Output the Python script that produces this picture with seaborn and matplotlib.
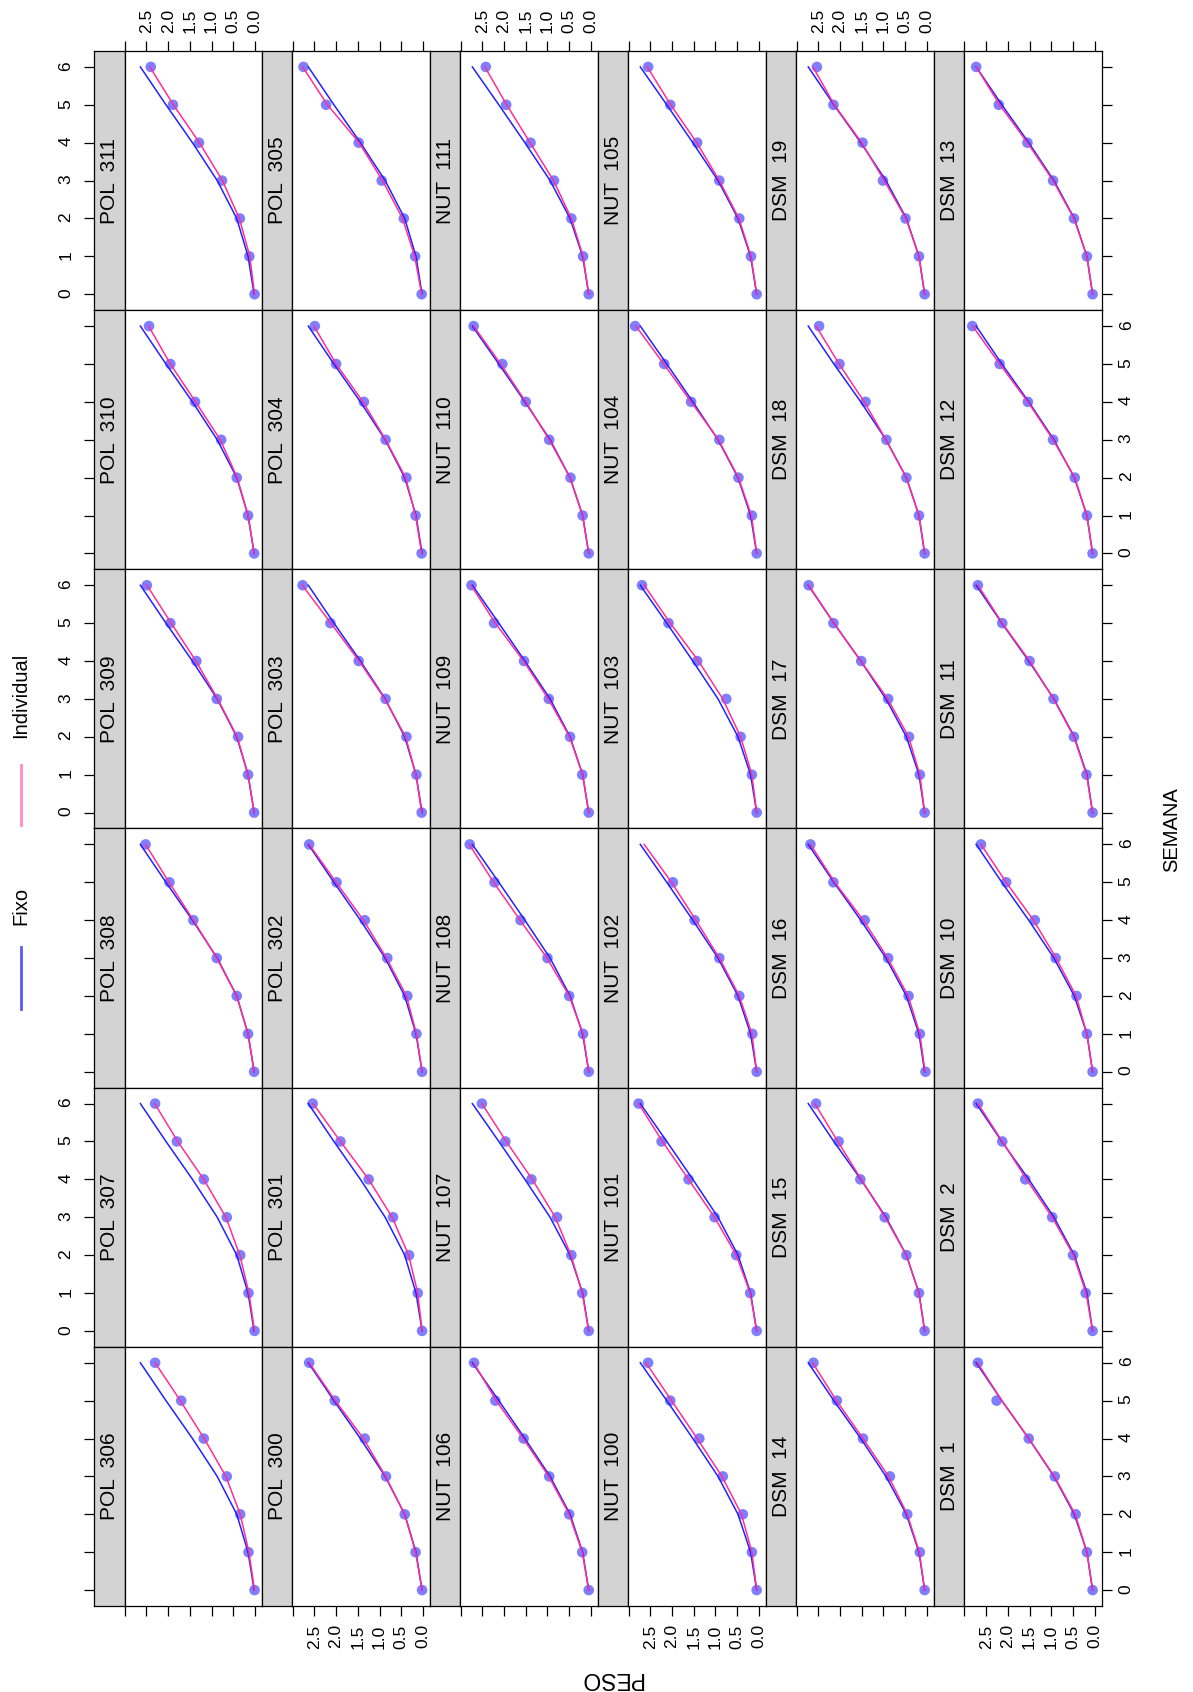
import numpy as np
import pandas as pd
import matplotlib
matplotlib.use("Agg")
import matplotlib.pyplot as plt
from matplotlib.lines import Line2D
from matplotlib import font_manager
import seaborn as sns

# ---------------------------------------------------------------- data
weeks = [0, 1, 2, 3, 4, 5, 6]
peso_ticks = [0.0, 0.5, 1.0, 1.5, 2.0, 2.5, 3.0]
peso_tick_labels = ["0.0", "0.5", "1.0", "1.5", "2.0", "2.5", ""]

# panel order: one list per column, top row first
col_labels = [
    ["POL  311", "POL  310", "POL  309", "POL  308", "POL  307", "POL  306"],
    ["POL  305", "POL  304", "POL  303", "POL  302", "POL  301", "POL  300"],
    ["NUT  111", "NUT  110", "NUT  109", "NUT  108", "NUT  107", "NUT  106"],
    ["NUT  105", "NUT  104", "NUT  103", "NUT  102", "NUT  101", "NUT  100"],
    ["DSM  19", "DSM  18", "DSM  17", "DSM  16", "DSM  15", "DSM  14"],
    ["DSM  13", "DSM  12", "DSM  11", "DSM  10", "DSM  2", "DSM  1"],
]

# observed weight by week (NaN = not weighed)
peso_obs = {
    "POL  311": [0.01, 0.13, 0.35, 0.76, 1.29, 1.89, 2.40],
    "POL  310": [0.02, 0.16, 0.42, 0.78, 1.38, 1.95, 2.44],
    "POL  309": [0.02, 0.16, 0.39, 0.88, 1.35, 1.95, 2.49],
    "POL  308": [0.02, 0.16, 0.42, 0.88, 1.42, 1.97, 2.52],
    "POL  307": [0.01, 0.15, 0.34, 0.65, 1.18, 1.80, 2.30],
    "POL  306": [0.01, 0.15, 0.34, 0.65, 1.18, 1.70, 2.30],
    "POL  305": [0.03, 0.18, 0.44, 0.95, 1.48, 2.23, 2.75],
    "POL  304": [0.03, 0.17, 0.38, 0.86, 1.36, 2.00, 2.49],
    "POL  303": [0.03, 0.15, 0.38, 0.86, 1.48, 2.13, 2.77],
    "POL  302": [0.02, 0.15, 0.36, 0.82, 1.34, 1.99, 2.62],
    "POL  301": [0.02, 0.12, 0.32, 0.69, 1.25, 1.90, 2.54],
    "POL  300": [0.02, 0.17, 0.42, 0.85, 1.34, 2.03, 2.62],
    "NUT  111": [0.05, 0.18, 0.45, 0.85, 1.39, 1.95, 2.42],
    "NUT  110": [0.05, 0.19, 0.47, 0.96, 1.50, 2.04, 2.70],
    "NUT  109": [0.05, 0.20, 0.48, 0.97, 1.54, 2.23, 2.75],
    "NUT  108": [0.05, 0.18, 0.50, 1.00, 1.62, 2.22, 2.79],
    "NUT  107": [0.05, 0.20, 0.45, 0.78, 1.37, 1.97, 2.51],
    "NUT  106": [0.05, 0.20, 0.50, 0.96, 1.55, 2.20, 2.69],
    "NUT  105": [0.05, 0.18, 0.45, 0.91, 1.42, 2.04, 2.55],
    "NUT  104": [0.05, 0.16, 0.47, 0.91, 1.56, 2.18, 2.85],
    "NUT  103": [0.05, 0.16, 0.42, 0.75, 1.42, 2.08, 2.69],
    "NUT  102": [0.05, 0.15, 0.45, 0.91, 1.48, 1.98, np.nan],
    "NUT  101": [0.05, 0.20, 0.52, 1.02, 1.62, 2.24, 2.77],
    "NUT  100": [0.05, 0.16, 0.37, 0.83, 1.37, 2.04, 2.55],
    "DSM  19": [0.05, 0.18, 0.49, 1.01, 1.48, 2.15, 2.53],
    "DSM  18": [0.05, 0.18, 0.47, 0.93, 1.41, 2.01, 2.48],
    "DSM  17": [0.05, 0.16, 0.41, 0.89, 1.51, 2.15, 2.72],
    "DSM  16": [0.03, 0.16, 0.42, 0.89, 1.43, 2.15, 2.68],
    "DSM  15": [0.05, 0.18, 0.47, 0.97, 1.53, 2.03, 2.55],
    "DSM  14": [0.05, 0.16, 0.45, 0.85, 1.47, 2.07, 2.61],
    "DSM  13": [0.05, 0.18, 0.48, 0.96, 1.55, 2.21, 2.73],
    "DSM  12": [0.05, 0.18, 0.46, 0.96, 1.54, 2.19, 2.82],
    "DSM  11": [0.05, 0.19, 0.48, 0.95, 1.50, 2.13, 2.69],
    "DSM  10": [0.05, 0.18, 0.42, 0.90, 1.38, 2.04, 2.62],
    "DSM  2": [0.05, 0.21, 0.50, 0.98, 1.60, 2.13, 2.69],
    "DSM  1": [0.05, 0.18, 0.44, 0.92, 1.52, 2.26, 2.69],
}

# individual-curve fitted weight by week
peso_ind = {
    "POL  311": [0.01, 0.12, 0.36, 0.75, 1.28, 1.88, 2.42],
    "POL  310": [0.02, 0.16, 0.41, 0.80, 1.37, 1.95, 2.45],
    "POL  309": [0.02, 0.16, 0.41, 0.86, 1.36, 1.93, 2.49],
    "POL  308": [0.02, 0.16, 0.42, 0.88, 1.42, 1.98, 2.52],
    "POL  307": [0.01, 0.14, 0.35, 0.67, 1.18, 1.78, 2.31],
    "POL  306": [0.01, 0.14, 0.34, 0.67, 1.17, 1.72, 2.30],
    "POL  305": [0.03, 0.19, 0.47, 0.93, 1.47, 2.20, 2.77],
    "POL  304": [0.03, 0.17, 0.40, 0.86, 1.38, 2.00, 2.51],
    "POL  303": [0.03, 0.16, 0.40, 0.88, 1.47, 2.12, 2.78],
    "POL  302": [0.02, 0.15, 0.38, 0.84, 1.37, 2.00, 2.62],
    "POL  301": [0.02, 0.12, 0.33, 0.71, 1.25, 1.90, 2.53],
    "POL  300": [0.02, 0.17, 0.42, 0.86, 1.37, 2.02, 2.62],
    "NUT  111": [0.05, 0.18, 0.45, 0.86, 1.40, 1.94, 2.44],
    "NUT  110": [0.05, 0.19, 0.48, 0.96, 1.50, 2.08, 2.70],
    "NUT  109": [0.05, 0.19, 0.49, 0.98, 1.55, 2.20, 2.76],
    "NUT  108": [0.05, 0.18, 0.50, 1.01, 1.63, 2.24, 2.80],
    "NUT  107": [0.05, 0.20, 0.46, 0.82, 1.35, 1.95, 2.51],
    "NUT  106": [0.05, 0.20, 0.50, 0.97, 1.56, 2.18, 2.70],
    "NUT  105": [0.05, 0.18, 0.46, 0.91, 1.43, 2.03, 2.57],
    "NUT  104": [0.05, 0.17, 0.47, 0.93, 1.56, 2.19, 2.83],
    "NUT  103": [0.05, 0.16, 0.42, 0.83, 1.39, 2.04, 2.64],
    "NUT  102": [0.05, 0.16, 0.45, 0.91, 1.45, 2.01, 2.64],
    "NUT  101": [0.05, 0.20, 0.52, 1.02, 1.62, 2.22, 2.77],
    "NUT  100": [0.05, 0.16, 0.40, 0.85, 1.42, 2.01, 2.60],
    "DSM  19": [0.05, 0.18, 0.48, 0.98, 1.50, 2.13, 2.62],
    "DSM  18": [0.05, 0.18, 0.47, 0.94, 1.44, 2.02, 2.55],
    "DSM  17": [0.05, 0.16, 0.42, 0.90, 1.52, 2.14, 2.72],
    "DSM  16": [0.04, 0.16, 0.43, 0.90, 1.46, 2.12, 2.68],
    "DSM  15": [0.05, 0.18, 0.47, 0.96, 1.51, 2.05, 2.58],
    "DSM  14": [0.05, 0.17, 0.45, 0.88, 1.47, 2.08, 2.63],
    "DSM  13": [0.05, 0.18, 0.48, 0.96, 1.55, 2.19, 2.73],
    "DSM  12": [0.05, 0.18, 0.46, 0.96, 1.54, 2.19, 2.81],
    "DSM  11": [0.05, 0.19, 0.48, 0.95, 1.50, 2.13, 2.69],
    "DSM  10": [0.05, 0.18, 0.43, 0.89, 1.41, 2.04, 2.62],
    "DSM  2": [0.05, 0.20, 0.49, 0.98, 1.57, 2.13, 2.69],
    "DSM  1": [0.05, 0.18, 0.45, 0.93, 1.52, 2.14, 2.70],
}

# fixed-effect (group) curve by week
peso_fixo = {
    "POL": [0.02, 0.16, 0.42, 0.87, 1.44, 2.05, 2.64],
    "NUT": [0.05, 0.19, 0.48, 0.94, 1.52, 2.12, 2.73],
    "DSM": [0.05, 0.18, 0.47, 0.94, 1.52, 2.14, 2.73],
}

# ---------------------------------------------------------------- style
names = {f.name for f in font_manager.fontManager.ttflist}
if "Liberation Sans Narrow" in names:
    vfam = "Liberation Sans Narrow"
    strip_fs, tick_fs, lab_fs = 18, 15, 17.5
else:
    vfam = "Liberation Sans"
    strip_fs, tick_fs, lab_fs = 15, 12.5, 14.5
plt.rcParams["font.family"] = [vfam, "DejaVu Sans"]

C_FIX = "#2222ff"
C_IND = "#ff2f96"
C_PT = "#1414ff"

W, H = 1193, 1692
fig = plt.figure(figsize=(W / 100, H / 100), dpi=100)

GRID_L, GRID_R, GRID_T, GRID_B = 94.0, 1101.7, 51.0, 1606.0
NCOL, NROW = 6, 6
col_w = (GRID_R - GRID_L) / NCOL
row_h = (GRID_B - GRID_T) / NROW
STRIP_W = 30.5
XLIM = (3.005, -0.16)
YLIM = (-0.42, 6.42)


def rect(x0, y0, x1, y1):
    return [x0 / W, 1 - y1 / H, (x1 - x0) / W, (y1 - y0) / H]


for c, column in enumerate(col_labels):
    for r, label in enumerate(column):
        x0 = GRID_L + c * col_w
        y0 = GRID_T + r * row_h
        y1 = y0 + row_h

        # strip (panel header) on the left of each panel
        sax = fig.add_axes(rect(x0, y0, x0 + STRIP_W, y1))
        sax.set_facecolor("#d3d3d3")
        sax.set_xlim(0, 1)
        sax.set_ylim(*YLIM)
        sax.set_xticks([])
        sax.set_yticks(weeks, labels=[str(w) for w in weeks])
        sax.tick_params(axis="y", direction="out", length=7.2, width=0.9,
                        labelsize=tick_fs, labelrotation=90, pad=7.5,
                        left=(c == 0), labelleft=(c == 0 and r % 2 == 0),
                        right=False, labelright=False)
        for sp in sax.spines.values():
            sp.set_linewidth(0.9)
            sp.set_color("black")
        sax.text(0.5, 0.5, label, rotation=90, ha="center", va="center",
                 fontsize=strip_fs, transform=sax.transAxes)

        # data panel: PESO runs right-to-left, SEMANA bottom-to-top
        ax = fig.add_axes(rect(x0 + STRIP_W, y0, x0 + col_w, y1))
        df_obs = pd.DataFrame({"SEMANA": weeks, "PESO": peso_obs[label]})
        df_ind = pd.DataFrame({"SEMANA": weeks, "PESO": peso_ind[label]})
        df_fix = pd.DataFrame({"SEMANA": weeks,
                               "PESO": peso_fixo[label.split()[0]]})

        sns.scatterplot(data=df_obs, x="PESO", y="SEMANA", ax=ax,
                        color=C_PT, alpha=0.55, s=58, edgecolor="none",
                        zorder=2, legend=False)
        sns.lineplot(data=df_fix, x="PESO", y="SEMANA", ax=ax, sort=False,
                     estimator=None, color=C_FIX, lw=1.1, zorder=3,
                     legend=False)
        sns.lineplot(data=df_ind, x="PESO", y="SEMANA", ax=ax, sort=False,
                     estimator=None, color=C_IND, lw=1.1, zorder=4,
                     legend=False)

        ax.set_xlim(*XLIM)
        ax.set_ylim(*YLIM)
        ax.set_xlabel("")
        ax.set_ylabel("")
        ax.set_facecolor("white")
        ax.set_xticks(peso_ticks, labels=peso_tick_labels)
        ax.set_yticks(weeks, labels=[str(w) for w in weeks])
        ax.tick_params(axis="both", direction="out", length=7.2, width=0.9,
                       labelsize=tick_fs, labelrotation=90)
        ax.tick_params(axis="x",
                       top=(r == 0), labeltop=(r == 0 and c % 2 == 0),
                       bottom=(r == NROW - 1),
                       labelbottom=(r == NROW - 1 and c % 2 == 1))
        ax.tick_params(axis="x", which="major", pad=6)
        ax.tick_params(axis="y", left=False, labelleft=False,
                       right=(c == NCOL - 1),
                       labelright=(c == NCOL - 1 and r % 2 == 1), pad=5)
        for sp in ax.spines.values():
            sp.set_linewidth(0.9)
            sp.set_color("black")

# key (legend) along the left edge
fig.add_artist(Line2D([21 / W, 21 / W], [1 - 947 / H, 1 - 1009 / H],
                      color="#5a5af5", lw=2))
fig.text(21 / W, 1 - 906 / H, "Fixo", rotation=90, ha="center",
         va="center", fontsize=lab_fs)
fig.add_artist(Line2D([21 / W, 21 / W], [1 - 765 / H, 1 - 825 / H],
                      color="#ff8cc8", lw=2))
fig.text(21 / W, 1 - 695 / H, "Individual", rotation=90, ha="center",
         va="center", fontsize=lab_fs)

# axis titles
fig.text(1172 / W, 1 - 830 / H, "SEMANA", rotation=90, ha="center",
         va="center", fontsize=lab_fs)
fig.text(611 / W, 1 - 1678 / H, "PESO", rotation=180, ha="center",
         va="center", fontsize=16.5, family=["Liberation Sans", "DejaVu Sans"])

fig.savefig("out.png", dpi=100)
